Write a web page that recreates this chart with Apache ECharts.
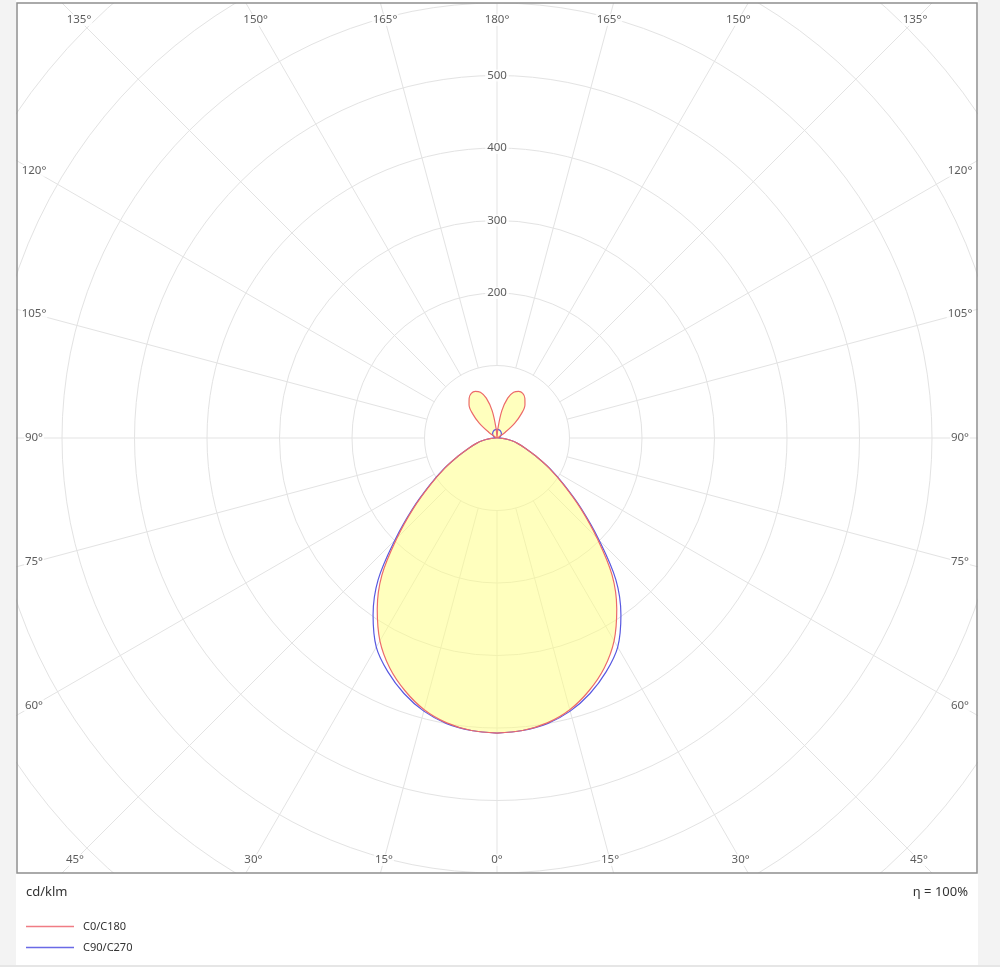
<!DOCTYPE html>
<html><head><meta charset="utf-8">
<script src="https://cdn.jsdelivr.net/npm/echarts@6/dist/echarts.min.js"></script>
<style>html,body{margin:0;padding:0;background:#f3f3f3}#c{width:1000px;height:967px}</style>
</head><body><div id="c"></div>
<script>
// gamma angles (degrees) of the measured intensities
const gammas = [0,5,10,15,20,25,30,35,40,45,50,55,60,65,70,75,80,85,90,95,100,105,110,115,120,125,130,135,140,145,150,155,160,165,170,175,180];
// luminous intensity, cd/klm
const c0   = [407,405,399,388,371,350,323,288,247,195,150,112,83,59,42,30,20,10,2,0,0,0,0,1,4,14,32,48,60,67,71,71,67,57,38,12,0];
const c180 = [407,405,399,388,371,350,323,288,247,195,150,112,83,59,42,30,20,10,2,0,0,0,0,1,4,14,32,48,60,67,71,71,67,57,38,12,0];
const c90  = [407,405,400,390,375,356,333,298,255,199,152,113,84,59,42,30,20,10,2,1,2.1,3.1,4.1,5.1,6,6.9,7.7,8.5,9.2,9.8,10.4,10.9,11.3,11.6,11.8,12,12];
const c270 = [407,405,400,390,375,356,333,298,255,199,152,113,84,59,42,30,20,10,2,1,2.1,3.1,4.1,5.1,6,6.9,7.7,8.5,9.2,9.8,10.4,10.9,11.3,11.6,11.8,12,12];
// axis labels
const angleTicks = [0,15,30,45,60,75,90,105,120,135,150,165,180];
const radiusLabels = [200,300,400,500];
const spokeAngles = [0,15,30,45,60,75,90,105,120,135,150,165,180,195,210,225,240,255,270,285,300,315,330,345];
const RMAX = 1000;

// layout
const CX = 497, CY = 438, RPX = 725;
const PX_PER = RPX / RMAX;
const INNER = {left: 463, right: 463, top: 418, bottom: 422};
const SMOOTH = 0.35;

function loop(right, left) {
  const pts = [];
  gammas.forEach((g, i) => pts.push([right[i], 180 - g]));
  for (let i = gammas.length - 1; i >= 0; i--) pts.push([left[i], 180 + gammas[i]]);
  return pts;
}
const redLoop = loop(c0, c180);
const blueLoop = loop(c90, c270);

function labelRadius(g) {
  const s = Math.sin(g * Math.PI / 180), c = Math.cos(g * Math.PI / 180);
  let t = Infinity;
  if (Math.abs(s) > 1e-9) t = Math.min(t, INNER.left / Math.abs(s));
  if (c > 1e-9) t = Math.min(t, INNER.bottom / c);
  if (c < -1e-9) t = Math.min(t, INNER.top / -c);
  return t / PX_PER;
}
const angleLabelData = [];
angleTicks.forEach(g => {
  const r = labelRadius(g);
  angleLabelData.push({value: [r, 180 - g], name: g + '°'});
  if (g !== 0 && g !== 180) angleLabelData.push({value: [r, 180 + g], name: g + '°'});
});

const FONT = '"Noto Sans", "DejaVu Sans", sans-serif';
const chart = echarts.init(document.getElementById('c'), null, {renderer: 'canvas'});
chart.setOption({
  animation: false,
  backgroundColor: '#ffffff',
  polar: {center: [CX, CY], radius: RPX},
  angleAxis: {type: 'value', min: 0, max: 360, startAngle: 90, clockwise: true, show: false},
  radiusAxis: {
    type: 'value', min: 0, max: RMAX, interval: 100,
    axisLine: {show: false}, axisTick: {show: false}, axisLabel: {show: false},
    splitLine: {show: true, lineStyle: {color: '#e3e3e3', width: 1}}
  },
  legend: {
    orient: 'vertical', left: 21, top: 916, itemWidth: 48, itemHeight: 1.3, itemGap: 10, z: 100,
    icon: 'rect',
    data: ['C0/C180', 'C90/C270'],
    textStyle: {fontSize: 11, color: '#333', fontFamily: FONT, padding: [0, 0, 0, 4]}
  },
  graphic: {elements: [
    {type: 'rect', z: 50, shape: {x: 16, y: 0, width: 962, height: 3}, style: {fill: '#ffffff'}},
    {type: 'rect', z: 50, shape: {x: 16, y: 873, width: 962, height: 92}, style: {fill: '#ffffff'}},
    {type: 'rect', z: 50, shape: {x: 0, y: 0, width: 16, height: 967}, style: {fill: '#f3f3f3'}},
    {type: 'rect', z: 50, shape: {x: 978, y: 0, width: 22, height: 967}, style: {fill: '#f3f3f3'}},
    {type: 'rect', z: 50, shape: {x: 0, y: 965, width: 1000, height: 2}, style: {fill: '#e6e6e6'}},
    {type: 'rect', z: 51, shape: {x: 17, y: 3, width: 960, height: 870}, style: {fill: null, stroke: '#8f8f8f', lineWidth: 1.5}},
    {type: 'text', z: 52, x: 26, y: 892, style: {text: 'cd/klm', fill: '#333', font: '13px ' + FONT, textVerticalAlign: 'middle', verticalAlign: 'middle'}},
    {type: 'text', z: 52, x: 968, y: 892, style: {text: 'η = 100%', fill: '#333', font: '13px ' + FONT, align: 'right', textAlign: 'right', verticalAlign: 'middle', textVerticalAlign: 'middle'}}
  ]},
  series: [
    {
      type: 'custom', coordinateSystem: 'polar', silent: true, z: 1,
      data: spokeAngles.map(a => [RMAX, a]),
      renderItem: function (params, api) {
        const a = api.value(1);
        const p1 = api.coord([100, a]), p2 = api.coord([RMAX, a]);
        return {type: 'line', shape: {x1: p1[0], y1: p1[1], x2: p2[0], y2: p2[1]}, style: {stroke: '#e3e3e3', lineWidth: 1}};
      }
    },
    {
      type: 'custom', coordinateSystem: 'polar', silent: true, z: 2,
      data: [[0, 0]],
      renderItem: function (params, api) {
        const pts = redLoop.map(p => api.coord(p));
        return {type: 'polygon', shape: {points: pts, smooth: SMOOTH}, style: {fill: 'rgba(255,255,125,0.5)', stroke: null}};
      }
    },
    {
      name: 'C90/C270', type: 'line', coordinateSystem: 'polar', data: blueLoop, z: 3,
      symbol: 'none', showSymbol: false, clip: false, smooth: SMOOTH,
      lineStyle: {color: '#5858e0', width: 1.2}, itemStyle: {color: '#6a6ae6'}
    },
    {
      name: 'C0/C180', type: 'line', coordinateSystem: 'polar', data: redLoop, z: 4,
      symbol: 'none', showSymbol: false, clip: false, smooth: SMOOTH,
      lineStyle: {color: '#ec6a6a', width: 1.2}, itemStyle: {color: '#f07c84'}
    },
    {
      type: 'scatter', coordinateSystem: 'polar', symbolSize: 0, z: 10, silent: true,
      data: radiusLabels.map(r => ({value: [r, 0], name: String(r)})),
      label: {show: true, position: 'inside', formatter: '{b}', color: '#333', fontSize: 11.5, fontFamily: FONT, backgroundColor: '#ffffff', padding: [0, 2]}
    },
    {
      type: 'scatter', coordinateSystem: 'polar', symbolSize: 0, z: 10, silent: true,
      data: angleLabelData,
      label: {show: true, position: 'inside', formatter: '{b}', color: '#333', fontSize: 11.5, fontFamily: FONT, backgroundColor: '#ffffff', padding: [0, 1]}
    }
  ]
});
</script>
</body></html>
